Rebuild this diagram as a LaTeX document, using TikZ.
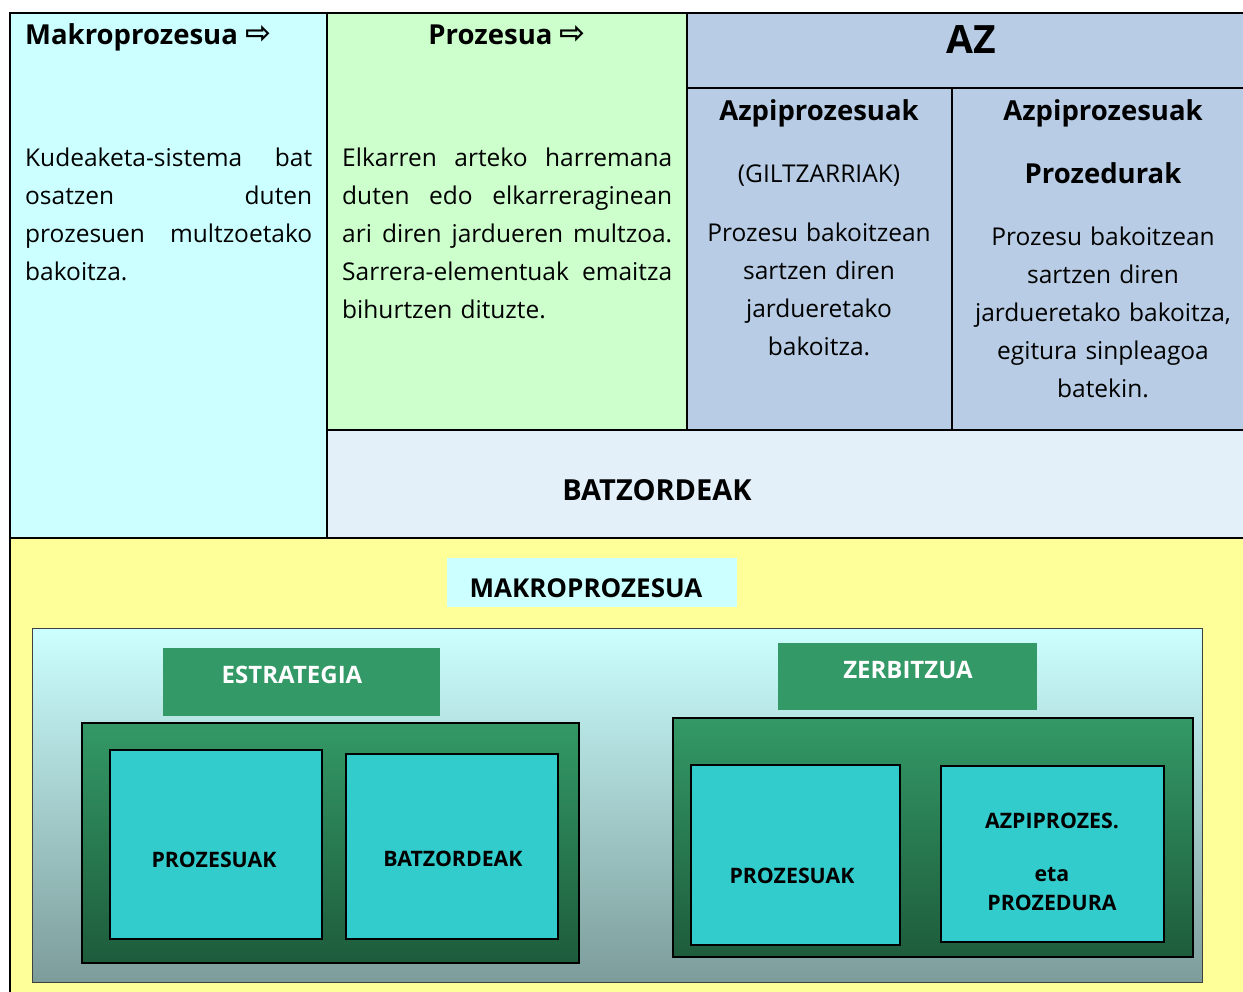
\documentclass[tikz,border=0pt]{standalone}
\usepackage{fontspec}
\setmainfont{Open Sans}
\newfontfamily\arrowfont{DejaVu Sans}
\usetikzlibrary{positioning}

\definecolor{makrocyan}{HTML}{CCFFFF}
\definecolor{prozgreen}{HTML}{CCFFCC}
\definecolor{azblue}{HTML}{B8CDE5}
\definecolor{batzblue}{HTML}{E3EFF9}
\definecolor{bgyellow}{HTML}{FFFF99}
\definecolor{boxgreen}{HTML}{339966}
\definecolor{darkgreen}{HTML}{1E5C3C}
\definecolor{boxteal}{HTML}{33CCCC}
\definecolor{greyteal}{HTML}{7C9C9A}

\newcommand{\headarrow}{\raisebox{1pt}{\arrowfont\bfseries\fontsize{31}{31}\selectfont\char"21E8}}

\begin{document}
\begin{tikzpicture}[x=1pt,y=-1pt,
	every node/.style={inner sep=0pt},
	headtext/.style={font=\fontsize{27.5}{38}\selectfont\bfseries},
	bodytext/.style={font=\fontsize{24.5}{38}\selectfont},
	boxlabel/.style={font=\fontsize{21.3}{29}\selectfont\bfseries},
	whitelabel/.style={font=\fontsize{24}{29}\selectfont\bfseries,white},
	tableline/.style={line width=1.6pt,black},
	greenbox/.style={fill=boxgreen,anchor=north west},
	greenframe/.style={draw=black,line width=1.5pt,top color=boxgreen,bottom color=darkgreen,anchor=north west},
	tealbox/.style={draw=black,line width=1.5pt,fill=boxteal,anchor=north west}]

		\useasboundingbox (0,0) rectangle (1243,992);

		%table cells
		\fill[makrocyan] (10,13) rectangle (327,538);
		\fill[prozgreen] (327,13) rectangle (687,430);
		\fill[azblue] (687,13) rectangle (1243,430);
		\fill[batzblue] (327,430) rectangle (1243,538);
		\fill[bgyellow] (10,538) rectangle (1243,992);

		%table lines
		\draw[tableline] (10,992) -- (10,13) -- (1243,13);
		\draw[tableline] (10,538) -- (1243,538);
		\draw[tableline] (327,13) -- (327,538);
		\draw[tableline] (687,13) -- (687,430);
		\draw[tableline] (327,430) -- (1243,430);
		\draw[tableline] (687,88) -- (1243,88);
		\draw[tableline] (952,88) -- (952,430);

		%first column
		\node[headtext,anchor=base west] (makrohead) at (25,45) {Makroprozesua \headarrow};
		\node[bodytext,text width=287,align=left,anchor=base west] (makrodef) at (25,167)
			{Kudeaketa-sistema\hfill bat\\ osatzen\hfill duten\\ prozesuen\hfill multzoetako\\ bakoitza.};

		%second column
		\node[headtext,anchor=base] (prozhead) at (507,45) {Prozesua \headarrow};
		\node[bodytext,text width=330,align=left,anchor=base west] (prozdef) at (342,167)
			{Elkarren\hfill arteko\hfill harremana\\ duten\hfill edo\hfill elkarreraginean\\
			 ari\hfill diren\hfill jardueren\hfill multzoa.\\ Sarrera-elementuak\hfill emaitza\\ bihurtzen dituzte.};

		%AZ column
		\node[font=\fontsize{39}{42}\selectfont\bfseries,anchor=base] (azhead) at (971,54) {AZ};
		\node[headtext,anchor=base] (azpi1head) at (819,121) {Azpiprozesuak};
		\node[bodytext,anchor=base] (giltz) at (819,183) {(GILTZARRIAK)};
		\node[bodytext,text width=260,align=center,anchor=base] (azpi1def) at (819,242)
			{Prozesu bakoitzean\\ sartzen diren\\ jardueretako\\ bakoitza.};
		\node[headtext,anchor=base] (azpi2head) at (1103,121) {Azpiprozesuak};
		\node[headtext,anchor=base] (prozedhead) at (1103,184) {Prozedurak};
		\node[bodytext,text width=286,align=center,anchor=base] (azpi2def) at (1103,246)
			{Prozesu bakoitzean\\ sartzen diren\\ jardueretako bakoitza,\\ egitura sinpleagoa\\ batekin.};

		%batzordeak row
		\node[font=\fontsize{29}{32}\selectfont\bfseries,anchor=base] (batzhead) at (657,500) {BATZORDEAK};

		%makroprozesua
		\node[fill=makrocyan,anchor=north west,minimum width=290,minimum height=49] (makrobox) at (447,558) {};
		\node[font=\fontsize{26}{30}\selectfont\bfseries,anchor=base] (makrolabel) at (586,597) {MAKROPROZESUA};
		\node[draw=black!75,line width=1pt,top color=makrocyan,bottom color=greyteal,anchor=north west,
			minimum width=1170,minimum height=354] (makroframe) at (32,628) {};

		%estrategia
		\node[greenbox,minimum width=277,minimum height=68] (estrbox) at (163,648) {};
		\node[whitelabel,anchor=base] (estrlabel) at (292,683) {ESTRATEGIA};
		\node[greenframe,minimum width=497,minimum height=240] (estrframe) at (81,722) {};
		\node[tealbox,minimum width=212,minimum height=189] (prozleft) at (109,749) {};
		\node[tealbox,minimum width=212,minimum height=185] (batzleft) at (345,753) {};
		\node[boxlabel,anchor=base] (prozleftlabel) at (214,867) {PROZESUAK};
		\node[boxlabel,anchor=base] (batzleftlabel) at (453,866) {BATZORDEAK};

		%zerbitzua
		\node[greenbox,minimum width=259,minimum height=67] (zerbbox) at (778,643) {};
		\node[whitelabel,anchor=base] (zerblabel) at (908,678) {ZERBITZUA};
		\node[greenframe,minimum width=520,minimum height=239] (zerbframe) at (672,717) {};
		\node[tealbox,minimum width=209,minimum height=180] (prozright) at (690,764) {};
		\node[tealbox,minimum width=223,minimum height=176] (azpiright) at (940,765) {};
		\node[boxlabel,anchor=base] (prozrightlabel) at (792,883) {PROZESUAK};
		\node[boxlabel,text width=220,align=center,anchor=base] (azpirightlabel) at (1052,828)
			{AZPIPROZES.\\[24pt] eta\\ PROZEDURA};

\end{tikzpicture}
\end{document}
